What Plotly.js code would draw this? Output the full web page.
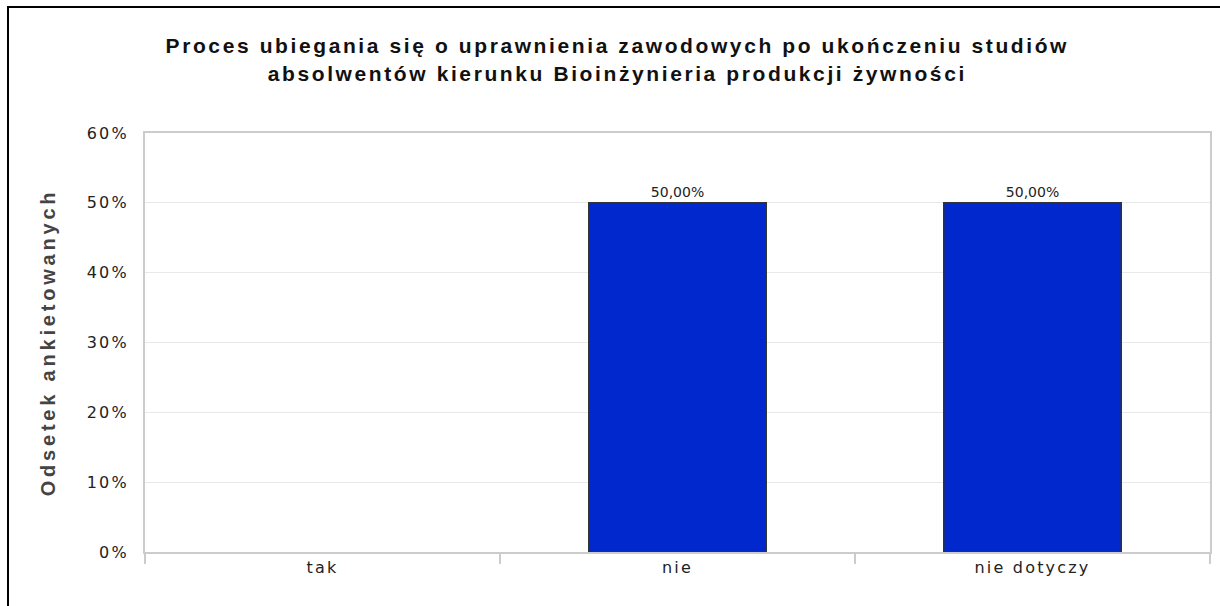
<!DOCTYPE html>
<html>
<head>
<meta charset="utf-8">
<script src="https://cdn.plot.ly/plotly-3.0.1.min.js"></script>
<style>
  html, body { margin: 0; padding: 0; background: #fff; }
  #wrap { position: relative; width: 1220px; height: 606px; overflow: hidden; }
  #chart { width: 1220px; height: 606px; }
  #frame { position: absolute; left: 7px; top: 6px; right: -10px; bottom: -10px;
           border-left: 2px solid #000; border-top: 2px solid #000; pointer-events: none; }
  .xtick text, .ytick text { letter-spacing: 2.2px; }
  .gtitle { letter-spacing: 2.6px; }
  .ytitle { letter-spacing: 3.8px; }
  .textpoint text { letter-spacing: 1.8px; }
</style>
</head>
<body>
<div id="wrap">
  <div id="chart"></div>
  <div id="frame"></div>
</div>
<script>
const categories = ["tak", "nie", "nie dotyczy"];
const values = [0, 0.5, 0.5];
const yTickValues = [0, 0.1, 0.2, 0.3, 0.4, 0.5, 0.6];
const titleText = "Proces ubiegania się o uprawnienia zawodowych po ukończeniu studiów<br>absolwentów kierunku Bioinżynieria produkcji żywności";
const yTitleText = "Odsetek ankietowanych";

const labels = values.map(v => v > 0 ? (v * 100).toFixed(2).replace(".", ",") + "%" : "");
const lineWidths = values.map(v => v > 0 ? 1.5 : 0);

const trace = {
  type: "bar",
  x: categories,
  y: values,
  width: 0.5,
  marker: { color: "#0028CC", line: { color: "#333333", width: lineWidths } },
  text: labels,
  textposition: "outside",
  cliponaxis: false,
  textfont: { family: "DejaVu Sans", size: 14, color: "#222" },
  hoverinfo: "skip"
};

const layout = {
  width: 1220, height: 606,
  margin: { l: 145, r: 10, t: 133, b: 54 },
  paper_bgcolor: "#fff",
  plot_bgcolor: "#fff",
  separators: ",.",
  showlegend: false,
  title: {
    text: titleText,
    font: { family: "Liberation Sans", size: 21, color: "#111", weight: "bold" },
    x: 0.506, xanchor: "center",
    y: 0.912, yanchor: "top"
  },
  xaxis: {
    type: "category",
    showline: true, linecolor: "#cccccc", linewidth: 2, mirror: true,
    ticks: "outside", tickson: "boundaries", ticklen: 10, tickcolor: "#cccccc", tickwidth: 2,
    tickfont: { family: "DejaVu Sans", size: 16, color: "#222" },
    showgrid: false, zeroline: false,
    fixedrange: true
  },
  yaxis: {
    range: [0, 0.6],
    tickvals: yTickValues,
    tickformat: ".0%",
    showline: true, linecolor: "#cccccc", linewidth: 2, mirror: true,
    ticks: "", ticklen: 0,
    ticklabelstandoff: 11,
    gridcolor: "#e8e8e8", gridwidth: 1,
    zeroline: false,
    tickfont: { family: "DejaVu Sans", size: 16, color: "#222" },
    title: { text: yTitleText, font: { family: "Liberation Sans", size: 20, color: "#444", weight: "bold" }, standoff: 26 },
    fixedrange: true
  },
  bargap: 0.5
};

Plotly.newPlot("chart", [trace], layout, { displayModeBar: false, staticPlot: true });
</script>
</body>
</html>
